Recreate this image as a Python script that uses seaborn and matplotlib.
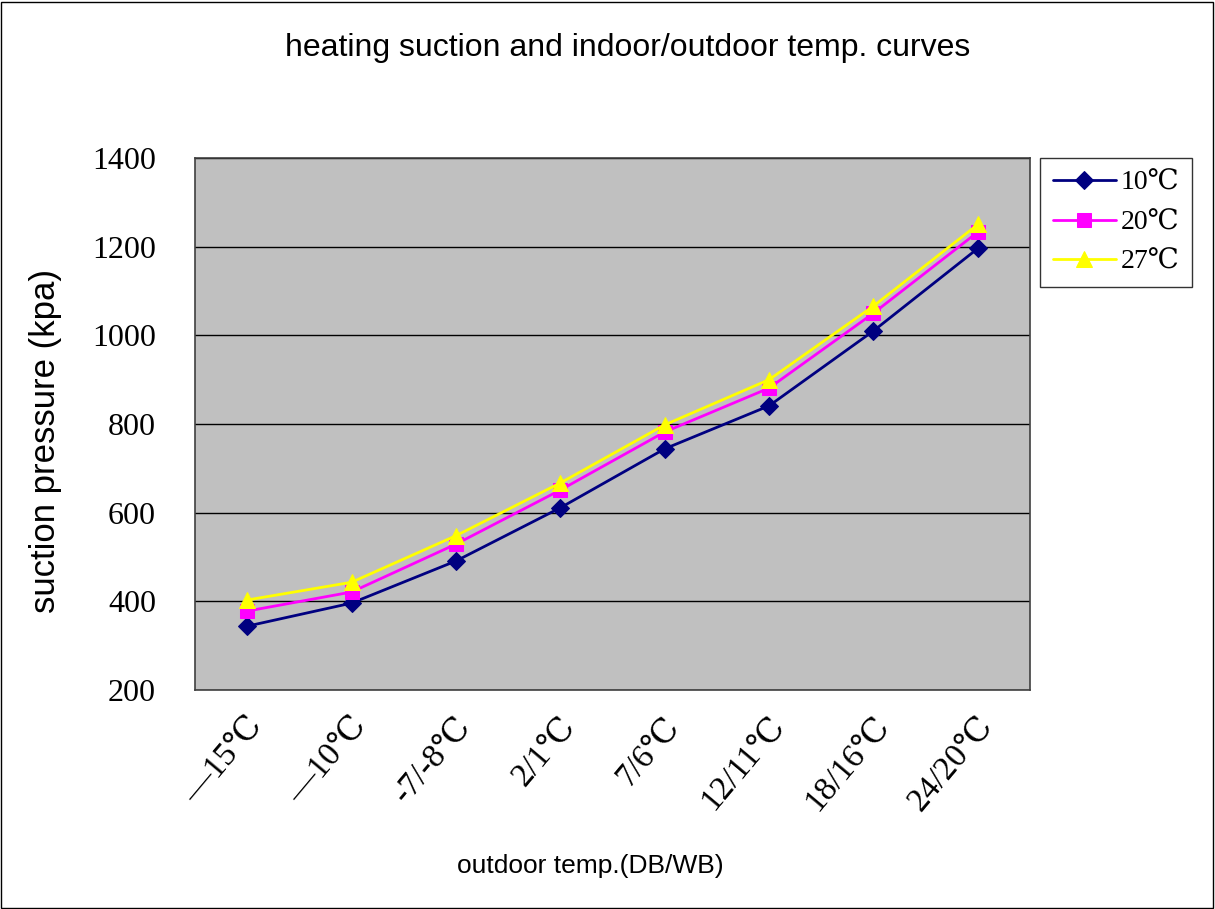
import matplotlib
matplotlib.use("Agg")
import matplotlib.pyplot as plt
import matplotlib.patches as mpatches
import matplotlib.transforms as mtransforms
import numpy as np
import pandas as pd
import seaborn as sns

# Outdoor conditions (DB/WB) and suction pressure (kPa) for each indoor temperature
categories = ["—15℃", "—10℃", "-7/-8℃", "2/1℃", "7/6℃", "12/11℃", "18/16℃", "24/20℃"]
series_names = ["10℃", "20℃", "27℃"]
p_10 = [344, 396, 491, 611, 744, 841, 1010, 1196]
p_20 = [378, 421, 529, 651, 782, 881, 1050, 1233]
p_27 = [403, 443, 548, 667, 798, 900, 1066, 1250]
y_ticks = [200, 400, 600, 800, 1000, 1200, 1400]

serif = ["Liberation Serif", "DejaVu Serif", "Noto Sans CJK SC"]
sans = ["Liberation Sans", "DejaVu Sans"]

sns.set_theme(style="white")
plt.rcParams["font.family"] = serif
plt.rcParams["text.color"] = "black"
plt.rcParams["xtick.color"] = "black"
plt.rcParams["ytick.color"] = "black"

df = pd.DataFrame({
    "idx": np.tile(np.arange(len(categories)), 3),
    "pressure": p_10 + p_20 + p_27,
    "indoor": np.repeat(series_names, len(categories)),
})

fig = plt.figure(figsize=(12.15, 9.09), dpi=100)
ax = fig.add_axes([195 / 1215, 1 - 690 / 909, 835 / 1215, 532 / 909])
ax.set_facecolor("#C0C0C0")

colors = {"10℃": "#000080", "20℃": "#FF00FF", "27℃": "#FFFF00"}
markers = {"10℃": "D", "20℃": "s", "27℃": "^"}
msizes = {"10℃": 9, "20℃": 10, "27℃": 12}

for name in series_names:
    sub = df[df["indoor"] == name]
    sns.lineplot(data=sub, x="idx", y="pressure", ax=ax, color=colors[name],
                 marker=markers[name], markersize=msizes[name],
                 markeredgecolor=colors[name], linewidth=2, label=name,
                 estimator=None, errorbar=None)

ax.set_xlim(-0.5, len(categories) - 0.5)
ax.set_ylim(200, 1400)
ax.set_yticks(y_ticks)
ax.set_yticklabels([str(v) for v in y_ticks], fontsize=23, family=serif)
ax.yaxis.grid(True, color="black", linewidth=1)
ax.set_axisbelow(True)

ax.set_xticks(np.arange(len(categories)))
ax.set_xticklabels(categories, rotation=50, ha="right", va="center",
                   rotation_mode="anchor", fontsize=24, family=serif)
ax.tick_params(axis="x", which="major", length=0, pad=22)
shift = mtransforms.ScaledTranslation(10 / 100, 0, fig.dpi_scale_trans)
for lbl in ax.get_xticklabels():
    lbl.set_transform(lbl.get_transform() + shift)
ax.set_xticks(np.arange(len(categories) + 1) - 0.5, minor=True)
ax.tick_params(axis="x", which="minor", direction="in", length=7, width=1, color="black")
ax.tick_params(axis="y", which="major", direction="in", length=5, pad=28, color="black")

for sp in ax.spines.values():
    sp.set_color("#404040")
    sp.set_linewidth(1.2)
    sp.set_visible(True)

ax.set_xlabel("")
ax.set_ylabel("")

fig.text(628 / 1215, 1 - 48 / 909, "heating suction and indoor/outdoor temp. curves",
         ha="center", va="center", fontsize=23, family=sans)
fig.text(46 / 1215, 1 - 441 / 909, "suction pressure (kpa)", rotation=90,
         ha="center", va="center", fontsize=25, family=sans)
fig.text(590 / 1215, 1 - 866 / 909, "outdoor temp.(DB/WB)",
         ha="center", va="center", fontsize=19, family=sans)

leg = ax.legend(loc="upper left", bbox_to_anchor=(1.012, 1.0), frameon=True,
                fancybox=False, edgecolor="black", prop={"family": serif, "size": 20},
                handlelength=2.3, handletextpad=0.15, borderpad=0.45, labelspacing=0.5,
                borderaxespad=0)
leg.get_frame().set_linewidth(1)

fig.patches.append(mpatches.Rectangle((0.001, 0.001), 0.997, 0.997, transform=fig.transFigure,
                                      fill=False, edgecolor="black", linewidth=1))

fig.savefig("out.png", dpi=100, facecolor="white")
